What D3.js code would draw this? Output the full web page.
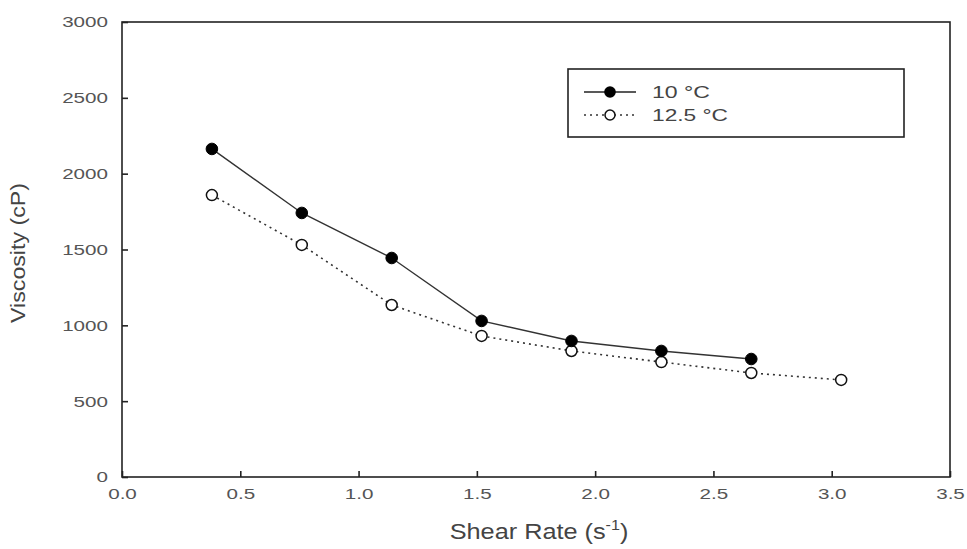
<!DOCTYPE html>
<html><head><meta charset="utf-8">
<script src="https://cdn.jsdelivr.net/npm/d3@7"></script>
<style>body{margin:0;background:#fff}svg{display:block}text{font-family:"Liberation Sans",Arial,sans-serif}</style>
</head><body>
<script>
const shearRate10 = [0.38, 0.76, 1.14, 1.52, 1.90, 2.28, 2.66];
const viscosity10 = [2163, 1741, 1444, 1029, 897, 831, 778];
const shearRate125 = [0.38, 0.76, 1.14, 1.52, 1.90, 2.28, 2.66, 3.04];
const viscosity125 = [1859, 1530, 1134, 930, 831, 758, 686, 640];
const xTicks = [0, 0.5, 1.0, 1.5, 2.0, 2.5, 3.0, 3.5];
const yTicks = [0, 500, 1000, 1500, 2000, 2500, 3000];
const seriesNames = ["10 \u00B0C", "12.5 \u00B0C"];

const W = 967, H = 549;
const svg = d3.select("body").append("svg").attr("width", W).attr("height", H);
const x = d3.scaleLinear().domain([0, 3.5]).range([122, 950]);
const y = d3.scaleLinear().domain([0, 3000]).range([477, 22]);

function stretch(sel, k) {
  sel.each(function() {
    const L = this.getComputedTextLength();
    d3.select(this).attr("textLength", L * k).attr("lengthAdjust", "spacingAndGlyphs");
  });
}

svg.append("rect").attr("x", 122).attr("y", 22).attr("width", 828).attr("height", 455)
  .attr("fill", "none").attr("stroke", "#222").attr("stroke-width", 1.6);

const xAxis = svg.append("g").attr("transform", "translate(0,477)")
  .call(d3.axisBottom(x).tickValues(xTicks).tickFormat(d3.format(".1f")).tickSizeInner(-6).tickSizeOuter(0).tickPadding(11));
const yAxis = svg.append("g").attr("transform", "translate(122,0)")
  .call(d3.axisLeft(y).tickValues(yTicks).tickFormat(d3.format("d")).tickSizeInner(-6).tickSizeOuter(0).tickPadding(14));
[xAxis, yAxis].forEach(g => {
  g.select(".domain").remove();
  g.selectAll(".tick line").attr("stroke", "#222").attr("stroke-width", 1.6);
  g.selectAll(".tick text").attr("fill", "#555").style("font-size", "15.5px");
  stretch(g.selectAll(".tick text"), 1.33);
});
xAxis.selectAll(".tick text").attr("dy", "0.71em");

const d10 = shearRate10.map((v, i) => [v, viscosity10[i]]);
const d125 = shearRate125.map((v, i) => [v, viscosity125[i]]);
const line = d3.line().x(d => x(d[0])).y(d => y(d[1]));

svg.append("path").attr("d", line(d125)).attr("fill", "none").attr("stroke", "#333")
  .attr("stroke-width", 1.6).attr("stroke-dasharray", "2,4");
svg.append("path").attr("d", line(d10)).attr("fill", "none").attr("stroke", "#333")
  .attr("stroke-width", 1.4);

svg.selectAll(".p125").data(d125).enter().append("circle")
  .attr("cx", d => x(d[0])).attr("cy", d => y(d[1])).attr("r", 5.5)
  .attr("fill", "#fff").attr("stroke", "#111").attr("stroke-width", 1.5);
svg.selectAll(".p10").data(d10).enter().append("circle")
  .attr("cx", d => x(d[0])).attr("cy", d => y(d[1])).attr("r", 5.8)
  .attr("fill", "#000").attr("stroke", "#000").attr("stroke-width", 1);

// legend
const lg = svg.append("g");
lg.append("rect").attr("x", 568).attr("y", 69).attr("width", 336).attr("height", 68)
  .attr("fill", "#fff").attr("stroke", "#222").attr("stroke-width", 1.6);
lg.append("line").attr("x1", 584).attr("x2", 636).attr("y1", 92).attr("y2", 92).attr("stroke", "#222").attr("stroke-width", 1.4);
lg.append("circle").attr("cx", 610).attr("cy", 92).attr("r", 5.8).attr("fill", "#000");
lg.append("line").attr("x1", 584).attr("x2", 636).attr("y1", 115).attr("y2", 115).attr("stroke", "#333").attr("stroke-width", 1.6).attr("stroke-dasharray", "2,4");
lg.append("circle").attr("cx", 610).attr("cy", 115).attr("r", 5).attr("fill", "#fff").attr("stroke", "#111").attr("stroke-width", 1.5);
const lt1 = lg.append("text").attr("x", 652).attr("y", 98).attr("fill", "#444").style("font-size", "16.5px").attr("textLength", 58).attr("lengthAdjust", "spacingAndGlyphs").text(seriesNames[0]);
const lt2 = lg.append("text").attr("x", 652).attr("y", 121).attr("fill", "#444").style("font-size", "16.5px").attr("textLength", 76).attr("lengthAdjust", "spacingAndGlyphs").text(seriesNames[1]);

// axis titles
svg.append("text").attr("transform", "translate(25,253) rotate(-90)").attr("text-anchor", "middle")
  .attr("fill", "#444").style("font-size", "21px").attr("textLength", 140).attr("lengthAdjust", "spacingAndGlyphs")
  .text("Viscosity (cP)");
const xt = svg.append("text").attr("transform", "translate(539,539) scale(1.15,1)").attr("text-anchor", "middle")
  .attr("fill", "#444").style("font-size", "22px");
xt.append("tspan").text("Shear Rate (s");
xt.append("tspan").attr("dy", -9).style("font-size", "14px").text("-1");
xt.append("tspan").attr("dy", 9).text(")");
</script>
</body></html>
